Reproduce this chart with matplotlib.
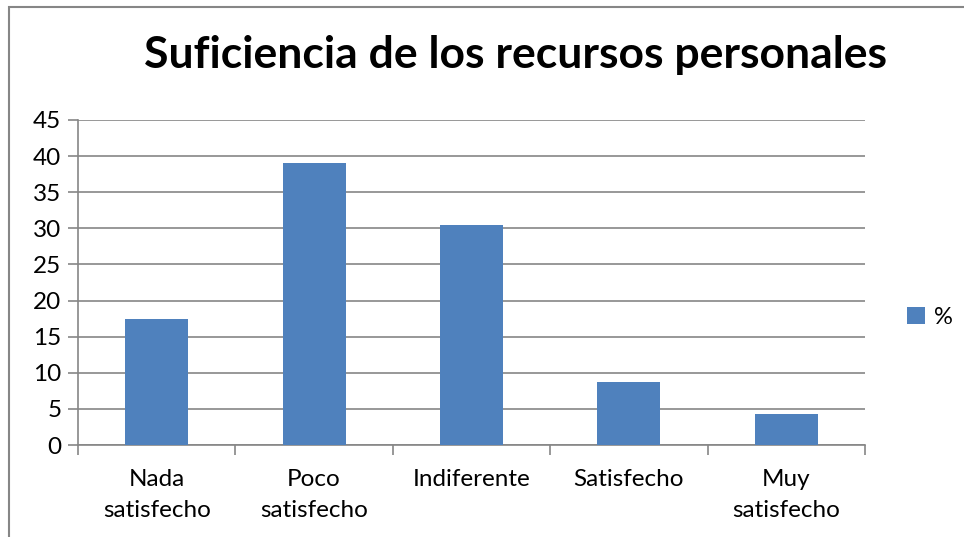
import numpy as np
import matplotlib.pyplot as plt
from matplotlib.patches import Rectangle

categories = ["Nada\nsatisfecho", "Poco\nsatisfecho", "Indiferente", "Satisfecho", "Muy\nsatisfecho"]
values = [17.4, 39.1, 30.4, 8.7, 4.3]
series_name = "%"
title = "Suficiencia de los recursos personales"

plt.rcParams['font.family'] = ['Lato', 'DejaVu Sans']

fig = plt.figure(figsize=(9.64, 5.37), dpi=100)
ax = fig.add_axes([78 / 964, 92 / 537, 787 / 964, 325 / 537])

x = np.arange(len(categories))
ax.bar(x, values, width=0.4, color="#4F81BD", label=series_name, zorder=3)

ax.set_xlim(-0.5, len(categories) - 0.5)
ax.set_ylim(0, 45)
ax.set_yticks(np.arange(0, 46, 5))
ax.yaxis.grid(True, color="#868686", linewidth=1.2, zorder=0)

ax.set_xticks(x)
ax.set_xticklabels(categories, fontsize=17.5, linespacing=1.6, va="top")
ax.set_xticks(np.arange(-0.5, len(categories)), minor=True)
ax.tick_params(axis="x", which="major", length=0, pad=17)
ax.tick_params(axis="x", which="minor", length=7, color="#868686", width=1.2)
ax.tick_params(axis="y", length=7, color="#868686", width=1.2, labelsize=17.5, pad=5)

for side in ["top", "right"]:
    ax.spines[side].set_visible(False)
for side in ["left", "bottom"]:
    ax.spines[side].set_color("#868686")
    ax.spines[side].set_linewidth(1.2)

fig.text(516 / 964, 1 - 55 / 537, title, fontsize=32, fontweight="bold",
         ha="center", va="center")

fig.legend(loc="center left", bbox_to_anchor=(886 / 964, 1 - 317 / 537),
           frameon=False, fontsize=17, handlelength=0.75, handleheight=0.75,
           handletextpad=0.4)

fig.patches.append(Rectangle((9 / 964, -0.1), 1.0, 1 - 7 / 537 + 0.1,
                             transform=fig.transFigure, fill=False,
                             edgecolor="#868686", linewidth=1.5))

fig.savefig("out.png", dpi=100)
